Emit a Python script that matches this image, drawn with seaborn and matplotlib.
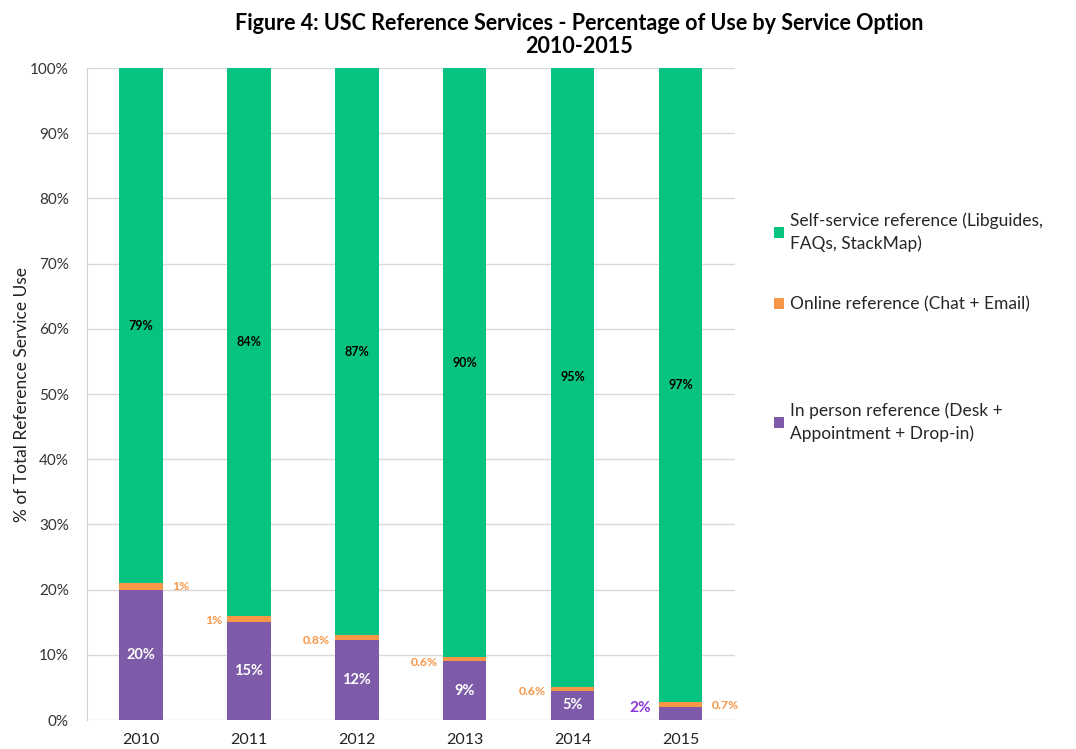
import numpy as np
import pandas as pd
import matplotlib
matplotlib.use("Agg")
import matplotlib.pyplot as plt
import seaborn as sns

years = [2010, 2011, 2012, 2013, 2014, 2015]
in_person = [20.0, 15.0, 12.2, 9.0, 4.5, 2.0]
online = [1.0, 1.0, 0.8, 0.6, 0.6, 0.7]
self_service = [79.0, 84.0, 87.0, 90.4, 94.9, 97.3]

self_labels = ["79%", "84%", "87%", "90%", "95%", "97%"]
in_person_labels = ["20%", "15%", "12%", "9%", "5%", "2%"]
online_labels = ["1%", "1%", "0.8%", "0.6%", "0.6%", "0.7%"]
online_side = ["right", "left", "left", "left", "left", "right"]

series_names = ["Self-service reference (Libguides,\nFAQs, StackMap)",
                "Online reference (Chat + Email)",
                "In person reference (Desk +\nAppointment + Drop-in)"]
colors = ["#06C47F", "#F79646", "#7E5BA8"]

df = pd.DataFrame({
    "year": years * 3,
    "value": self_service + online + in_person,
    "service": [series_names[0]] * 6 + [series_names[1]] * 6 + [series_names[2]] * 6,
})

sns.set_style("white")
plt.rcParams["font.family"] = ["Lato", "DejaVu Sans"]

fig = plt.figure(figsize=(10.76, 7.49), dpi=100)
ax = fig.add_axes([0.0809, 0.0387, 0.602, 0.8705])

# seaborn stacks the hue levels, first level ends on top
sns.histplot(data=df, x="year", weights="value", hue="service",
             hue_order=series_names, palette=colors, multiple="stack",
             discrete=True, shrink=0.4, alpha=1, linewidth=0, ax=ax)

ax.set_ylim(0, 100)
ax.set_xlim(2009.5, 2015.5)
ax.set_yticks(np.arange(0, 101, 10))
ax.set_yticklabels([f"{v}%" for v in range(0, 101, 10)], fontsize=11, color="#333333")
ax.set_xticks(years)
ax.set_xticklabels([str(y) for y in years], fontsize=11.5, color="#222222")
ax.tick_params(axis="y", length=5, color="#D0D0D0", width=1, pad=8)
ax.tick_params(axis="x", length=0, pad=9)
ax.yaxis.grid(True, color="#D9D9D9", linewidth=1)
ax.set_axisbelow(True)
for s in ["top", "right", "bottom"]:
    ax.spines[s].set_visible(False)
ax.spines["left"].set_color("#D0D0D0")
ax.set_xlabel("")
ax.set_ylabel("% of Total Reference Service Use", fontsize=12.5, color="#222222", labelpad=0)

# value labels
for i, yr in enumerate(years):
    base = in_person[i] + online[i]
    ax.text(yr, (base + 100) / 2, self_labels[i], ha="center", va="center",
            fontsize=9, fontweight="bold", color="black")
    if i < 5:
        ax.text(yr, in_person[i] / 2, in_person_labels[i], ha="center", va="center",
                fontsize=10.5, fontweight="bold", color="white")
    else:
        ax.text(yr - 0.38, in_person[i] / 2 + 0.9, in_person_labels[i], ha="center", va="center",
                fontsize=11, fontweight="bold", color="#8A35D6")
    if online_side[i] == "right":
        ax.text(yr + 0.29, base - 0.5, online_labels[i], ha="left", va="center",
                fontsize=8.8, fontweight="bold", color="#F79646")
    else:
        ax.text(yr - 0.25, base - 0.8, online_labels[i], ha="right", va="center",
                fontsize=8.8, fontweight="bold", color="#F79646")

# legend: rebuild from seaborn's handles, split so the gaps match
old = ax.get_legend()
handles = old.legend_handles
labels = [t.get_text() for t in old.get_texts()]
old.remove()
leg_kw = dict(loc="upper left", frameon=False, fontsize=12.5, handlelength=0.6,
              handleheight=0.6, handletextpad=0.35, borderpad=0, borderaxespad=0)
leg1 = fig.legend(handles[:2], labels[:2], bbox_to_anchor=(0.719, 0.717),
                  labelspacing=2.55, **leg_kw)
leg2 = fig.legend(handles[2:], labels[2:], bbox_to_anchor=(0.719, 0.463), **leg_kw)
for lg in (leg1, leg2):
    for t in lg.get_texts():
        t.set_linespacing(1.5)

fig.text(0.538, 0.968, "Figure 4: USC Reference Services - Percentage of Use by Service Option",
         ha="center", va="center", fontsize=15.5, fontweight="bold", color="black")
fig.text(0.538, 0.938, "2010-2015", ha="center", va="center", fontsize=15.5,
         fontweight="bold", color="black")

fig.savefig("out.png", dpi=100)
